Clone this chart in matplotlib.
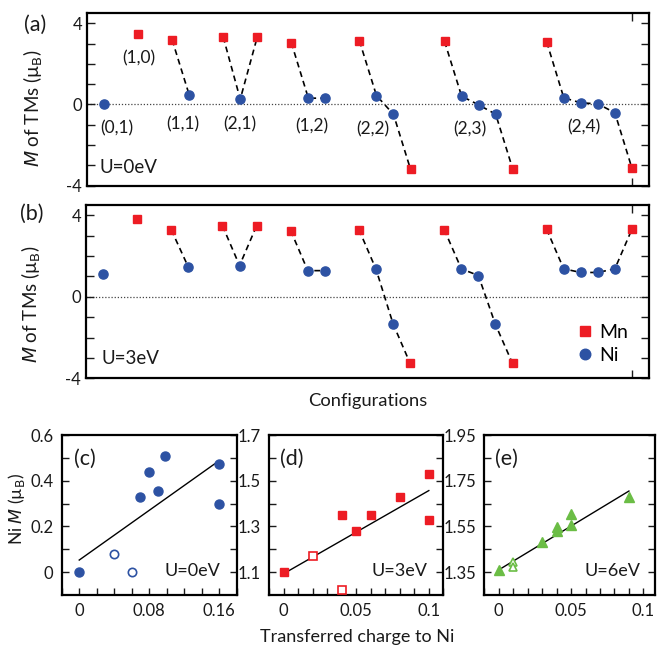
import numpy as np
import matplotlib
matplotlib.use('Agg')
import matplotlib.pyplot as plt
from matplotlib.ticker import MultipleLocator, FixedLocator

## Data ##
# (a)/(b): magnetic moments of the TMs for each (Mn,Ni) configuration
config_names = ['(0,1)', '(1,0)', '(1,1)', '(2,1)', '(1,2)', '(2,2)', '(2,3)', '(2,4)']
group_species = [['Ni'], ['Mn'], ['Mn', 'Ni'], ['Mn', 'Ni', 'Mn'], ['Mn', 'Ni', 'Ni'],
                 ['Mn', 'Ni', 'Ni', 'Mn'], ['Mn', 'Ni', 'Ni', 'Ni', 'Mn'],
                 ['Mn', 'Ni', 'Ni', 'Ni', 'Ni', 'Mn']]
m_u0 = [[0.0], [3.46], [3.19, 0.48], [3.33, 0.26, 3.33], [3.05, 0.31, 0.31],
        [3.14, 0.44, -0.49, -3.2], [3.11, 0.41, -0.02, -0.48, -3.18],
        [3.08, 0.33, 0.08, 0.03, -0.41, -3.14]]
m_u3 = [[1.1], [3.82], [3.28, 1.45], [3.48, 1.53, 3.48], [3.24, 1.28, 1.28],
        [3.29, 1.35, -1.33, -3.27], [3.29, 1.37, 1.04, -1.36, -3.27],
        [3.31, 1.37, 1.19, 1.19, 1.37, 3.31]]
# where the configuration names sit in panel (a)
name_x = [0.76, 2.06, 4.6, 8.0, 12.2, 15.8, 21.5, 28.2]
name_y = [-1.19, 2.27, -0.99, -0.99, -1.09, -1.23, -1.23, -1.14]

# (c) U=0eV, Ni moment vs transferred charge
c_x = [0, 0.07, 0.08, 0.09, 0.098, 0.16, 0.16]
c_y = [0, 0.33, 0.44, 0.355, 0.51, 0.475, 0.30]
c_open_x = [0.04, 0.06]
c_open_y = [0.08, 0.0]
c_fit_x = [0, 0.157]
c_fit_y = [0.053, 0.48]

# (d) U=3eV
d_x = [0, 0.04, 0.05, 0.06, 0.08, 0.1, 0.1]
d_y = [1.1, 1.35, 1.28, 1.35, 1.43, 1.53, 1.33]
d_open_x = [0.02, 0.04]
d_open_y = [1.17, 1.02]
d_fit_x = [0, 0.1]
d_fit_y = [1.093, 1.457]

# (e) U=6eV
e_x = [0, 0.03, 0.04, 0.04, 0.05, 0.05, 0.09]
e_y = [1.36, 1.483, 1.546, 1.53, 1.605, 1.557, 1.679]
e_open_x = [0.01, 0.01]
e_open_y = [1.395, 1.372]
e_fit_x = [0, 0.09]
e_fit_y = [1.36, 1.705]

## Style ##
plt.rcParams['font.family'] = 'Lato'
plt.rcParams['axes.unicode_minus'] = False
plt.rcParams['mathtext.fontset'] = 'dejavusans'

RED = '#ed1c24'
BLUE = '#2d52a3'
GREEN = '#6bbd45'
TXT = '#1a1a1a'


def config_panel(ax, moments, u_text, u_pos):
    mn_x, mn_y, ni_x, ni_y = [], [], [], []
    pos = 0
    for species, vals in zip(group_species, moments):
        xs = np.arange(pos, pos + len(vals))
        if len(vals) > 1:
            ax.plot(xs, vals, ls=(0, (3.5, 2.5)), color='k', lw=1.2, zorder=1)
        for x, s, v in zip(xs, species, vals):
            if s == 'Mn':
                mn_x.append(x); mn_y.append(v)
            else:
                ni_x.append(x); ni_y.append(v)
        pos += len(vals) + 1
    ax.axhline(0, color='#444444', ls=(0, (1, 1.5)), lw=0.9, zorder=0)
    ax.plot(mn_x, mn_y, 's', color=RED, ms=5.8, mec=RED, zorder=3, label='Mn')
    ax.plot(ni_x, ni_y, 'o', color=BLUE, ms=6.6, mec=BLUE, zorder=3, label='Ni')
    ax.set_xlim(-1, 32)
    ax.set_ylim(-4, 4.5)
    ax.set_yticks([-4, 0, 4])
    ax.set_yticklabels(['-4', '0', '4'])
    ax.yaxis.set_minor_locator(MultipleLocator(1))
    ax.set_xticks([31])
    ax.set_xticklabels([''])
    ax.tick_params(which='both', direction='in', length=6, width=1,
                   right=True, top=True, labelsize=12, colors=TXT)
    ax.tick_params(axis='x', which='minor', bottom=False, top=False)
    for sp in ax.spines.values():
        sp.set_linewidth(1.6)
    ax.text(u_pos[0], u_pos[1], u_text, transform=ax.transAxes, fontsize=13.5,
            va='center', ha='left', color=TXT)
    ax.set_ylabel('$M$ of TMs (\u00b5$_\\mathrm{B}$)', fontsize=13.5, color=TXT)


def charge_panel(ax, x, y, ox, oy, fx, fy, marker, color, ms, xlim, ylim,
                 xt, xtl, xminor, yt, ytl, yminor, tag, u_text):
    ax.plot(fx, fy, color='k', lw=1.0, zorder=1)
    ax.plot(x, y, marker, ls='none', color=color, mec=color, ms=ms, zorder=3)
    ax.plot(ox, oy, marker, ls='none', mfc='white', mec=color, mew=1.2, ms=ms - 0.5, zorder=3)
    ax.set_xlim(*xlim)
    ax.set_ylim(*ylim)
    ax.set_xticks(xt)
    ax.set_xticklabels(xtl)
    ax.xaxis.set_minor_locator(MultipleLocator(xminor))
    ax.set_yticks(yt)
    ax.set_yticklabels(ytl)
    ax.yaxis.set_minor_locator(FixedLocator(yminor))
    ax.tick_params(which='both', direction='in', length=5, width=1,
                   right=True, labelsize=12, colors=TXT, pad=6)
    for sp in ax.spines.values():
        sp.set_linewidth(1.6)
    ax.text(0.13, 0.85, tag, transform=ax.transAxes, fontsize=15.5,
            va='center', ha='center', color=TXT)
    ax.text(0.748, 0.15, u_text, transform=ax.transAxes, fontsize=13,
            va='center', ha='center', color=TXT)


fig = plt.figure(figsize=(6.58, 6.45), dpi=100)
ax_a = fig.add_axes([0.1322, 0.7124, 0.854, 0.267])
ax_b = fig.add_axes([0.1307, 0.4135, 0.8556, 0.2687])
ax_c = fig.add_axes([0.0938, 0.0775, 0.266, 0.248])
ax_d = fig.add_axes([0.4088, 0.0775, 0.265, 0.248])
ax_e = fig.add_axes([0.736, 0.0775, 0.2594, 0.248])

# (a)
config_panel(ax_a, m_u0, 'U=0eV', (0.023, 0.107))
ax_a.yaxis.set_label_coords(-0.075, 0.45)
for name, x, y in zip(config_names, name_x, name_y):
    ax_a.text(x, y, name, fontsize=12.5, ha='center', va='center', color=TXT)

# (b)
config_panel(ax_b, m_u3, 'U=3eV', (0.028, 0.115))
ax_b.yaxis.set_label_coords(-0.076, 0.43)
ax_b.set_xlabel('Configurations', fontsize=13.2, color=TXT, labelpad=7)
ax_b.legend(loc='center', bbox_to_anchor=(0.915, 0.2), frameon=False,
            fontsize=14, handletextpad=0.2, labelspacing=0.3,
            handlelength=1.1, markerscale=1.15)

fig.text(35 / 658, 1 - 25 / 645, '(a)', fontsize=15.5, ha='center', va='center', color=TXT)
fig.text(32 / 658, 1 - 214 / 645, '(b)', fontsize=15.5, ha='center', va='center', color=TXT)

# (c)
charge_panel(ax_c, c_x, c_y, c_open_x, c_open_y, c_fit_x, c_fit_y, 'o', BLUE, 6.5,
             (-0.02, 0.18), (-0.1, 0.6), [0, 0.08, 0.16], ['0', '0.08', '0.16'], 0.02,
             [0, 0.2, 0.4, 0.6], ['0', '0.2', '0.4', '0.6'], [0.1, 0.3, 0.5],
             '(c)', 'U=0eV')
ax_c.set_ylabel('Ni $M$ (\u00b5$_\\mathrm{B}$)', fontsize=12.5, color=TXT)
ax_c.yaxis.set_label_coords(-0.2, 0.54)

# (d)
charge_panel(ax_d, d_x, d_y, d_open_x, d_open_y, d_fit_x, d_fit_y, 's', RED, 5.8,
             (-0.01, 0.11), (1.0, 1.7), [0, 0.05, 0.1], ['0', '0.05', '0.1'], 0.01,
             [1.1, 1.3, 1.5, 1.7], ['1.1', '1.3', '1.5', '1.7'], [1.2, 1.4, 1.6],
             '(d)', 'U=3eV')

# (e)
charge_panel(ax_e, e_x, e_y, e_open_x, e_open_y, e_fit_x, e_fit_y, '^', GREEN, 6.5,
             (-0.01, 0.108), (1.25, 1.95), [0, 0.05, 0.1], ['0', '0.05', '0.1'], 0.01,
             [1.35, 1.55, 1.75, 1.95], ['1.35', '1.55', '1.75', '1.95'], [1.45, 1.65, 1.85],
             '(e)', 'U=6eV')

fig.text(357.5 / 658, 1 - 637 / 645, 'Transferred charge to Ni', fontsize=13,
         ha='center', va='center', color=TXT)

fig.savefig('out.png', dpi=100)
